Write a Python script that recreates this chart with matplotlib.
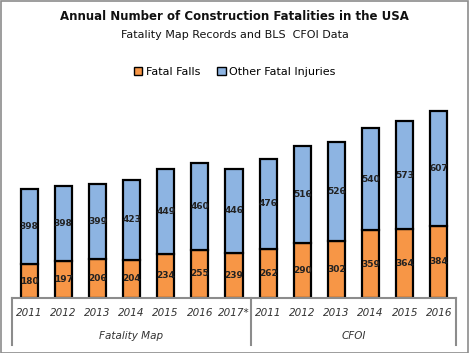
import matplotlib
matplotlib.use("Agg")
import matplotlib.pyplot as plt
from matplotlib.patches import Rectangle, Patch
from matplotlib.lines import Line2D

years = ["2011", "2012", "2013", "2014", "2015", "2016", "2017*",
         "2011", "2012", "2013", "2014", "2015", "2016"]
groups = ["Fatality Map", "CFOI"]
group_sizes = [7, 6]
fatal_falls = [180, 197, 206, 204, 234, 255, 239, 262, 290, 302, 359, 364, 384]
other_injuries = [398, 398, 399, 423, 449, 460, 446, 476, 516, 526, 540, 573, 607]

W, H = 469, 353
fig = plt.figure(figsize=(W / 100, H / 100), dpi=100)
fig.patch.set_facecolor("white")
fig.add_artist(Rectangle((0.5 / W, 0.5 / H), 1 - 1.5 / W, 1 - 1.5 / H, transform=fig.transFigure,
                         fill=False, edgecolor="#8c8c8c", linewidth=1.2))

left, right, bot, top = 12, 456, 298, 95
ax = fig.add_axes([left / W, 1 - bot / H, (right - left) / W, (bot - top) / H])
n = len(years)
x = list(range(n))
orange = "#F79646"
blue = "#8DB4E2"
ax.bar(x, fatal_falls, width=0.5, color=orange, edgecolor="black", linewidth=1.6)
ax.bar(x, other_injuries, bottom=fatal_falls, width=0.5, color=blue, edgecolor="black", linewidth=1.6)
for i in range(n):
    ax.text(x[i], fatal_falls[i] / 2, str(fatal_falls[i]), ha="center", va="center",
            fontsize=6.5, fontweight="bold", color="#222222")
    ax.text(x[i], fatal_falls[i] + other_injuries[i] / 2, str(other_injuries[i]), ha="center",
            va="center", fontsize=6.5, fontweight="bold", color="#222222")
ax.set_xlim(-0.5, n - 0.5)
ax.set_ylim(0, 1076)
ax.axis("off")

# category axis
gc = "#8c8c8c"
ax.add_line(Line2D([-0.5, n - 0.5], [0, 0], color=gc, lw=1.5, clip_on=False))
ybot = -(345 - 298) / 0.18885
for xb in [-0.5, group_sizes[0] - 0.5, n - 0.5]:
    ax.add_line(Line2D([xb, xb], [0, ybot], color=gc, lw=1.5, clip_on=False))
for i in range(n):
    ax.text(x[i], -(313 - 298) / 0.18885, years[i], ha="center", va="center", fontsize=7.5,
            style="italic", color="#333333")
start = 0
for g, s in zip(groups, group_sizes):
    ax.text(start + (s - 1) / 2, -(336 - 298) / 0.18885, g, ha="center", va="center",
            fontsize=7.5, style="italic", color="#333333")
    start += s

fig.text(0.5, 1 - 17 / H, "Annual Number of Construction Fatalities in the USA", ha="center",
         va="center", fontsize=8.5, fontweight="bold", color="#111111")
fig.text(0.5, 1 - 35 / H, "Fatality Map Records and BLS  CFOI Data", ha="center", va="center",
         fontsize=8, color="#111111")
handles = [Patch(facecolor=orange, edgecolor="black", label="Fatal Falls"),
           Patch(facecolor=blue, edgecolor="black", label="Other Fatal Injuries")]
fig.legend(handles=handles, loc="center", bbox_to_anchor=(0.5, 1 - 72 / H), ncol=2,
           frameon=False, fontsize=8, handlelength=0.8, handleheight=0.8, handletextpad=0.3,
           columnspacing=1.5)
fig.savefig("out.png", dpi=100)
